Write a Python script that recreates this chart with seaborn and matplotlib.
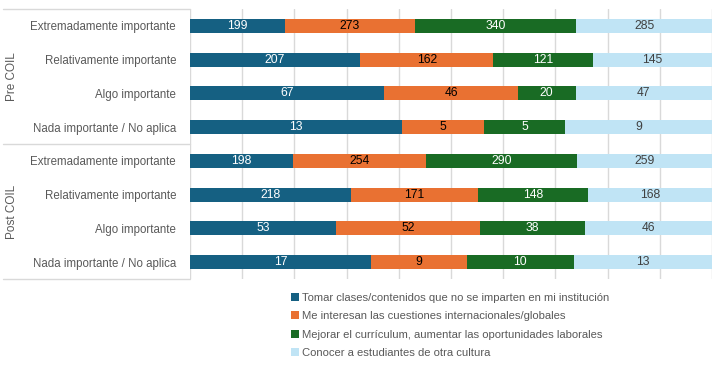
import numpy as np
import pandas as pd
import matplotlib.pyplot as plt
import seaborn as sns
from matplotlib.patches import Patch
from matplotlib.lines import Line2D

groups = ["Pre COIL", "Post COIL"]
levels = ["Extremadamente importante", "Relativamente importante",
          "Algo importante", "Nada importante / No aplica"]
series = ["Tomar clases/contenidos que no se imparten en mi institución",
          "Me interesan las cuestiones internacionales/globales",
          "Mejorar el currículum, aumentar las oportunidades laborales",
          "Conocer a estudiantes de otra cultura"]
pre_counts = [[199, 273, 340, 285],
              [207, 162, 121, 145],
              [67, 46, 20, 47],
              [13, 5, 5, 9]]
post_counts = [[198, 254, 290, 259],
               [218, 171, 148, 168],
               [53, 52, 38, 46],
               [17, 9, 10, 13]]
colors = ["#156082", "#E97132", "#196B24", "#C0E4F5"]
text_colors = ["white", "black", "white", "#404040"]

# build table
rows = []
for g, counts in zip(groups, [pre_counts, post_counts]):
    for lev, c in zip(levels, counts):
        rows.append([f"{g}|{lev}", lev] + c)
df = pd.DataFrame(rows, columns=["key", "level"] + series)
pct = df[series].div(df[series].sum(axis=1), axis=0) * 100
cum = pct.cumsum(axis=1)

sns.set_style("white")
plt.rcParams["font.family"] = ["Liberation Sans", "DejaVu Sans"]

fig = plt.figure(figsize=(7.2, 3.69), dpi=100)
ax = fig.add_axes([190 / 720, 1 - 279 / 369, 522 / 720, 270 / 369])

# draw stacked bars back to front
for i in range(len(series) - 1, -1, -1):
    sns.barplot(x=cum[series[i]], y=df["key"], orient="h", color=colors[i],
                width=0.415, saturation=1, order=list(df["key"]), ax=ax,
                edgecolor="none", zorder=2)

# value labels
for r in range(len(df)):
    for i, s in enumerate(series):
        xc = cum[s].iloc[r] - pct[s].iloc[r] / 2
        ax.text(xc, r, str(df[s].iloc[r]), ha="center", va="center",
                fontsize=8.7, color=text_colors[i], zorder=3)

ax.set_xlim(0, 100)
ax.set_ylim(7.5, -0.5)
ax.set_xticks(np.arange(0, 101, 10))
ax.set_xticklabels([])
ax.set_yticks(range(len(df)))
ax.set_yticklabels(df["level"], fontsize=8.3, color="#595959")
ax.tick_params(axis="both", length=0, pad=10)
ax.set_xlabel("")
ax.set_ylabel("")
ax.xaxis.grid(True, color="#D9D9D9", lw=1, zorder=0)
ax.set_axisbelow(True)
for sp in ax.spines.values():
    sp.set_visible(False)

# group labels and separators
for k, g in enumerate(groups):
    fig.text(12 / 720, 1 - (77 + 135 * k) / 369, g, rotation=90, ha="center",
             va="center", fontsize=8.5, color="#595959")
for yp in [9, 144, 279]:
    fig.add_artist(Line2D([3 / 720, 190 / 720], [1 - yp / 369, 1 - yp / 369],
                          color="#D9D9D9", lw=1))

handles = [Patch(facecolor=c, edgecolor="none") for c in colors]
fig.legend(handles, series, loc="upper left", bbox_to_anchor=(285 / 720, 1 - 287 / 369),
           frameon=False, fontsize=8.1, handlelength=0.7, handleheight=0.7,
           handletextpad=0.35, labelspacing=0.75, labelcolor="#595959", borderpad=0)

fig.savefig("out.png", dpi=100)
